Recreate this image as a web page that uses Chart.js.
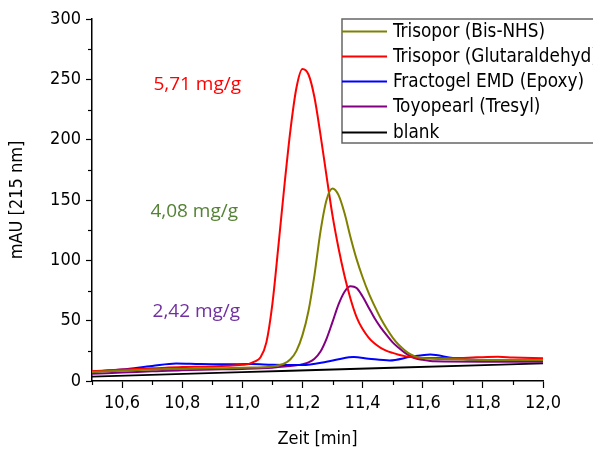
<!DOCTYPE html>
<html>
<head>
<meta charset="utf-8">
<script src="https://cdn.jsdelivr.net/npm/chart.js@4.4.0/dist/chart.umd.min.js"></script>
<style>
  body { margin: 0; background: #fff; }
</style>
</head>
<body>
<canvas id="myChart" width="593" height="450"></canvas>
<script>
// Chromatogramme, Werte
const serien = ["Trisopor (Bis-NHS)", "Trisopor (Glutaraldehyd)", "Fractogel EMD (Epoxy)", "Toyopearl (Tresyl)", "blank"];

const bisNhsZeit = [10.5, 10.6, 10.7, 10.8, 10.9, 11.0, 11.1, 11.12, 11.14, 11.16, 11.18, 11.2, 11.22, 11.24, 11.26, 11.28, 11.3, 11.32, 11.34, 11.36, 11.38, 11.4, 11.42, 11.44, 11.46, 11.48, 11.5, 11.52, 11.54, 11.56, 11.58, 11.6, 11.7, 11.8, 11.9, 12.0];
const bisNhsMau = [7.5, 8.5, 9.5, 10, 10.5, 11, 12, 13, 14.5, 18, 25, 38, 58, 88, 124, 150, 159.5, 154, 139, 119, 101, 86, 73, 62, 52, 43.5, 36, 30, 25.5, 22, 20, 19, 18, 17.5, 17.5, 17.5];

const glutZeit = [10.5, 10.6, 10.7, 10.8, 10.9, 11.0, 11.02, 11.04, 11.06, 11.08, 11.1, 11.12, 11.14, 11.16, 11.18, 11.2, 11.22, 11.24, 11.26, 11.28, 11.3, 11.32, 11.34, 11.36, 11.38, 11.4, 11.42, 11.44, 11.46, 11.48, 11.5, 11.52, 11.54, 11.56, 11.6, 11.7, 11.78, 11.85, 11.9, 12.0];
const glutMau = [8, 9.5, 10.5, 11.5, 12, 13.4, 14, 16, 19.5, 32, 64, 112, 162, 208, 243, 258.5, 254, 235, 204, 170, 137, 110, 87, 68, 53, 43, 36, 31, 27.5, 25, 23.3, 21.8, 20.6, 19.8, 19, 19, 19.6, 20, 19.5, 18.8];

const epoxyZeit = [10.5, 10.6, 10.7, 10.78, 10.86, 10.94, 11.03, 11.1, 11.2, 11.28, 11.32, 11.37, 11.42, 11.49, 11.56, 11.625, 11.7, 11.79, 11.9, 12.0];
const epoxyMau = [7.7, 9.5, 12.5, 14.6, 14, 13.8, 14, 13.5, 13.3, 16, 18, 19.8, 18.5, 17, 20, 22, 19, 17.4, 17.4, 17.6];

const tresylZeit = [10.5, 10.6, 10.7, 10.8, 10.9, 11.0, 11.1, 11.12, 11.14, 11.16, 11.18, 11.2, 11.22, 11.24, 11.26, 11.28, 11.3, 11.32, 11.34, 11.36, 11.38, 11.4, 11.42, 11.44, 11.46, 11.48, 11.5, 11.52, 11.54, 11.56, 11.58, 11.6, 11.64, 11.8, 12.0];
const tresylMau = [6, 7, 8, 9, 9.5, 10, 11, 11.5, 12, 12.5, 13, 14, 15.5, 18.5, 24.5, 35, 49, 63.5, 74, 78.5, 77, 70, 61, 52, 44.5, 38, 32, 27.5, 23.5, 20.5, 18.5, 17.5, 16.3, 16, 16];

const blankZeit = [10.5, 11.0, 11.5, 12.0];
const blankMau = [3.6, 7.3, 11, 14.6];

const xTicks = [10.6, 10.8, 11.0, 11.2, 11.4, 11.6, 11.8, 12.0];
const xMinor = [10.5, 10.7, 10.9, 11.1, 11.3, 11.5, 11.7, 11.9];
const yTicks = [0, 50, 100, 150, 200, 250, 300];
const yMinor = [25, 75, 125, 175, 225, 275];

const beladung = ["5,71 mg/g", "4,08 mg/g", "2,42 mg/g"];

const farben = ["#808000", "#ff0000", "#0000ff", "#800080", "#000000"];
const schrift = "'DejaVu Sans Condensed', 'Liberation Sans', sans-serif";

function paare(zeit, mau) {
  return zeit.map(function (t, i) {
    return { x: t, y: mau[i] };
  });
}

const werte = [
  paare(bisNhsZeit, bisNhsMau),
  paare(glutZeit, glutMau),
  paare(epoxyZeit, epoxyMau),
  paare(tresylZeit, tresylMau),
  paare(blankZeit, blankMau),
];

const datasets = serien.map(function (name, i) {
  return {
    label: name,
    data: werte[i],
    borderColor: farben[i],
    borderWidth: i == 4 ? 1.8 : 2,
    pointRadius: 0,
    fill: false,
    cubicInterpolationMode: "monotone",
  };
});

//Zusatz: Nebenstriche, Legende, Beschriftungen----------------------
const extras = {
  id: "extras",
  afterDraw(chart) {
    const ctx = chart.ctx;
    const xs = chart.scales.x;
    const ys = chart.scales.y;
    const area = chart.chartArea;
    ctx.save();

    ctx.strokeStyle = "#000";
    ctx.lineWidth = 1.2;
    xMinor.forEach(function (v) {
      const px = Math.round(xs.getPixelForValue(v)) + 0.5;
      ctx.beginPath();
      ctx.moveTo(px, area.bottom);
      ctx.lineTo(px, area.bottom + 4);
      ctx.stroke();
    });
    yMinor.forEach(function (v) {
      const py = Math.round(ys.getPixelForValue(v)) + 0.5;
      ctx.beginPath();
      ctx.moveTo(area.left - 4, py);
      ctx.lineTo(area.left, py);
      ctx.stroke();
    });

    // Beladung
    const farbText = ["#ff0000", "#548235", "#7030a0"];
    const posX = [10.85, 10.84, 10.847];
    const posY = [246, 140, 57.4];
    ctx.font = "19px 'Open Sans', sans-serif";
    ctx.textAlign = "center";
    ctx.textBaseline = "middle";
    beladung.forEach(function (t, i) {
      ctx.fillStyle = farbText[i];
      ctx.fillText(t, xs.getPixelForValue(posX[i]), ys.getPixelForValue(posY[i]));
    });

    // Legende
    ctx.fillStyle = "#fff";
    ctx.fillRect(342, 19, 260, 124);
    ctx.strokeStyle = "#666";
    ctx.lineWidth = 1.5;
    ctx.strokeRect(342, 19, 260, 124);
    ctx.font = "18.8px " + schrift;
    ctx.textAlign = "left";
    chart.data.datasets.forEach(function (ds, i) {
      const y = Math.round(30.7 + 25.2 * i) + 0.5;
      ctx.strokeStyle = ds.borderColor;
      ctx.lineWidth = 1.8;
      ctx.beginPath();
      ctx.moveTo(342, y);
      ctx.lineTo(387, y);
      ctx.stroke();
      ctx.fillStyle = "#000";
      ctx.fillText(ds.label, 393, y + 1);
    });
    ctx.restore();
  },
};

const config = {
  type: "line",
  data: { datasets: datasets },
  options: {
    responsive: false,
    animation: false,
    layout: { padding: { top: 19, right: 50, left: 0, bottom: 0 } },
    plugins: {
      legend: { display: false },
      tooltip: { enabled: false },
    },
    scales: {
      x: {
        type: "linear",
        min: 10.5,
        max: 12.0,
        afterBuildTicks: function (axis) {
          axis.ticks = xTicks.map(function (v) {
            return { value: v };
          });
        },
        afterFit: function (axis) {
          axis.height = 69;
        },
        ticks: {
          color: "#000",
          padding: 5,
          maxRotation: 0,
          font: { family: schrift, size: 18 },
          callback: function (v) {
            return v.toFixed(1).replace(".", ",");
          },
        },
        grid: { drawOnChartArea: false, tickLength: 7, tickColor: "#000", tickWidth: 1.2 },
        border: { display: true, color: "#000", width: 1.5 },
        title: {
          display: true,
          text: "Zeit [min]",
          color: "#000",
          font: { family: schrift, size: 18 },
          padding: { top: 4, bottom: 0 },
        },
      },
      y: {
        min: 0,
        max: 300,
        afterBuildTicks: function (axis) {
          axis.ticks = yTicks.map(function (v) {
            return { value: v };
          });
        },
        afterFit: function (axis) {
          axis.width = 92;
        },
        ticks: {
          color: "#000",
          padding: 5,
          font: { family: schrift, size: 18 },
        },
        grid: { drawOnChartArea: false, tickLength: 6, tickColor: "#000", tickWidth: 1.2 },
        border: { display: true, color: "#000", width: 1.5 },
        title: {
          display: true,
          text: "mAU [215 nm]",
          color: "#000",
          font: { family: schrift, size: 18 },
          padding: { top: 7, bottom: 0 },
        },
      },
    },
  },
  plugins: [extras],
};

myChart = new Chart(document.getElementById("myChart"), config);
</script>
</body>
</html>
